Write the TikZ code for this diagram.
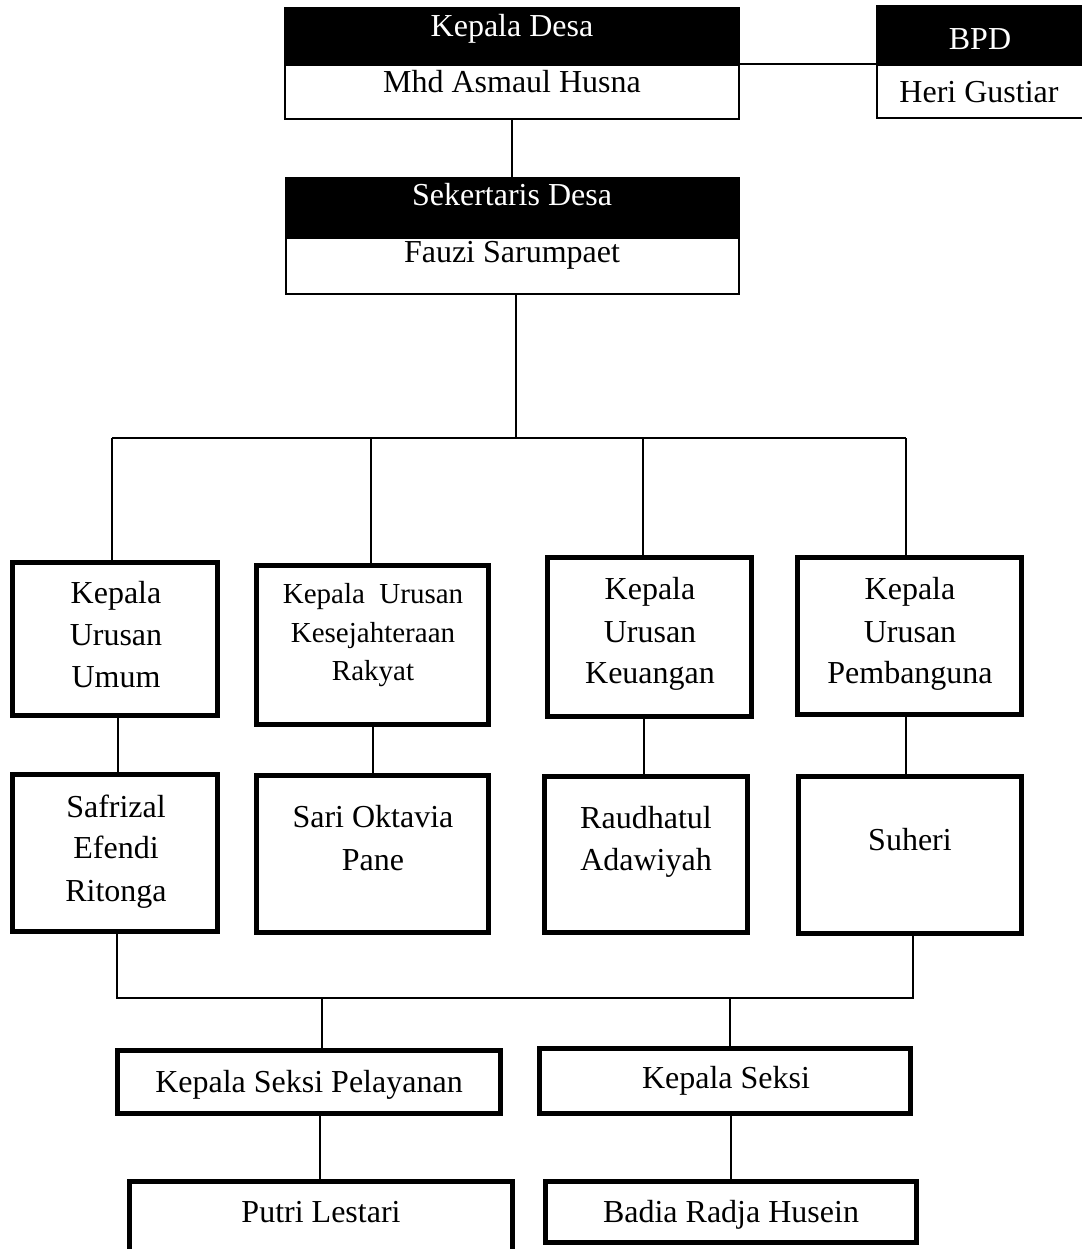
\documentclass[tikz,border=0pt]{standalone}
\usepackage{fontspec}
\setmainfont{Liberation Serif}
\begin{document}
\begin{tikzpicture}[x=1pt,y=-1pt,
  txt/.style={anchor=base, inner sep=0pt, font=\fontsize{32}{38}\selectfont},
  txtw/.style={txt, text=white},
  txts/.style={anchor=base, inner sep=0pt, font=\fontsize{29}{34}\selectfont},
  hbox/.style={draw, line width=2pt, inner sep=0pt, fill=white},
  hhead/.style={draw, fill=black, line width=2pt, inner sep=0pt},
  tbox/.style={draw, line width=5pt, inner sep=0pt},
  conn/.style={line width=1.8pt}]
\useasboundingbox (0,0) rectangle (1081,1249);

% top boxes
\node[hhead, minimum width=454pt, minimum height=56pt] (kdh) at (512,36) {};
\node[hbox, minimum width=454pt, minimum height=54pt] (kdb) at (512,92) {};
\node[hhead, minimum width=453pt, minimum height=58pt] (sdh) at (512.5,207) {};
\node[hbox, minimum width=453pt, minimum height=56pt] (sdb) at (512.5,266) {};
\node[hhead, minimum width=212pt, minimum height=57pt] (bph) at (983,34.5) {};
\node[hbox, minimum width=212pt, minimum height=53pt] (bpb) at (983,91.5) {};

\node[txtw] (kdt) at (512,36.5) {Kepala Desa};
\node[txt] (kdn) at (512,92.5) {Mhd Asmaul Husna};
\node[txtw] (sdt) at (512,206) {Sekertaris Desa};
\node[txt] (sdn) at (512,262) {Fauzi Sarumpaet};
\node[txtw] (bpt) at (980,50) {BPD};
\node[txt] (bpn) at (979,102.5) {Heri Gustiar};

% row 1
\node[tbox, minimum width=205pt, minimum height=153pt] (b1) at (115,639) {};
\node[tbox, minimum width=232pt, minimum height=159pt] (b2) at (372.5,645) {};
\node[tbox, minimum width=204pt, minimum height=159pt] (b3) at (649.5,637) {};
\node[tbox, minimum width=224pt, minimum height=157pt] (b4) at (909.5,636) {};
% row 2
\node[tbox, minimum width=205pt, minimum height=157pt] (c1) at (115,853) {};
\node[tbox, minimum width=232pt, minimum height=157pt] (c2) at (372.5,854) {};
\node[tbox, minimum width=203pt, minimum height=156pt] (c3) at (646,854.5) {};
\node[tbox, minimum width=223pt, minimum height=157pt] (c4) at (910,855) {};
% row 3
\node[tbox, minimum width=383pt, minimum height=63pt] (d1) at (309,1082) {};
\node[tbox, minimum width=371pt, minimum height=65pt] (d2) at (725,1081) {};
% row 4
\node[tbox, minimum width=383pt, minimum height=96pt] (e1) at (321,1229.5) {};
\node[tbox, minimum width=371pt, minimum height=61pt] (e2) at (731,1212) {};

% texts row 1
\node[txt] (b1a) at (116,603) {Kepala};
\node[txt] (b1b) at (116,645) {Urusan};
\node[txt] (b1c) at (116,687) {Umum};
\node[txts] (b2a) at (373,603) {Kepala\ \ Urusan};
\node[txts] (b2b) at (373,642) {Kesejahteraan};
\node[txts] (b2c) at (373,680) {Rakyat};
\node[txt] (b3a) at (650,599) {Kepala};
\node[txt] (b3b) at (650,642) {Urusan};
\node[txt] (b3c) at (650,683) {Keuangan};
\node[txt] (b4a) at (910,599) {Kepala};
\node[txt] (b4b) at (910,642) {Urusan};
\node[txt] (b4c) at (910,683) {Pembanguna};
% texts row 2
\node[txt] (c1a) at (116,817) {Safrizal};
\node[txt] (c1b) at (116,858) {Efendi};
\node[txt] (c1c) at (116,901) {Ritonga};
\node[txt] (c2a) at (373,827) {Sari Oktavia};
\node[txt] (c2b) at (373,870) {Pane};
\node[txt] (c3a) at (646,828) {Raudhatul};
\node[txt] (c3b) at (646,870) {Adawiyah};
\node[txt] (c4a) at (910,850) {Suheri};
% texts rows 3-4
\node[txt] (d1a) at (309,1092) {Kepala Seksi Pelayanan};
\node[txt] (d2a) at (726,1088) {Kepala Seksi};
\node[txt] (e1a) at (321,1222) {Putri Lestari};
\node[txt] (e2a) at (731,1222) {Badia Radja Husein};

% connectors
\draw[conn] (kdb.north east) -- (kdb.north east -| bpb.west);
\draw[conn] (kdb.south) -- (sdh.north -| kdb.south);

\coordinate (bt) at (516,438);
\coordinate (busL) at (112,438);
\coordinate (busR) at (906,438);
\coordinate (v2) at (371,438);
\coordinate (v3) at (643,438);
\draw[conn] (sdb.south -| bt) -- (bt);
\draw[conn] (busL) -- (busR);
\draw[conn] (busL) -- (busL |- b1.north);
\draw[conn] (v2) -- (v2 |- b2.north);
\draw[conn] (v3) -- (v3 |- b3.north);
\draw[conn] (busR) -- (busR |- b4.north);

\coordinate (k1) at (118,0);
\coordinate (k2) at (373,0);
\coordinate (k3) at (644,0);
\coordinate (k4) at (906,0);
\draw[conn] (b1.south -| k1) -- (c1.north -| k1);
\draw[conn] (b2.south -| k2) -- (c2.north -| k2);
\draw[conn] (b3.south -| k3) -- (c3.north -| k3);
\draw[conn] (b4.south -| k4) -- (c4.north -| k4);

\coordinate (lbL) at (117,998);
\coordinate (lbR) at (913,998);
\coordinate (m1) at (322,998);
\coordinate (m2) at (730,998);
\draw[conn] (c1.south -| lbL) -- (lbL) -- (lbR) -- (c4.south -| lbR);
\draw[conn] (m1) -- (m1 |- d1.north);
\draw[conn] (m2) -- (m2 |- d2.north);

\coordinate (n1) at (320,0);
\coordinate (n2) at (731,0);
\draw[conn] (d1.south -| n1) -- (e1.north -| n1);
\draw[conn] (d2.south -| n2) -- (e2.north -| n2);
\end{tikzpicture}
\end{document}
